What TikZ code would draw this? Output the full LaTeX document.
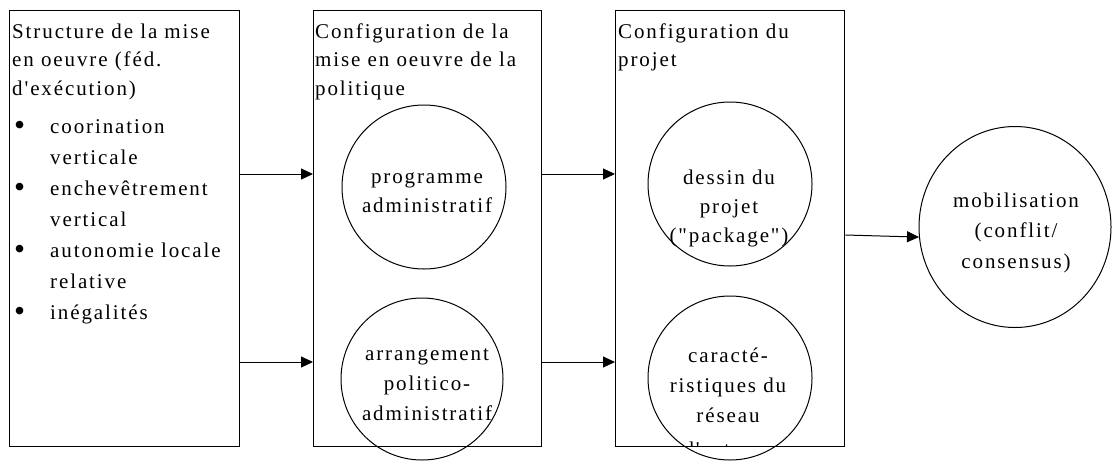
\documentclass[tikz,border=0pt]{standalone}
\usepackage{fontspec}
\newfontfamily\mainf{Liberation Serif}[LetterSpace=9,Ligatures=NoCommon]
\usetikzlibrary{arrows.meta,shapes.geometric}
\newcommand\Lbox[2]{\vtop{\baselineskip=#1\relax\halign{##\hfil\cr#2\crcr}}}
\newcommand\Cbox[2]{\vtop{\baselineskip=#1\relax\halign{\hfil##\hfil\cr#2\crcr}}}
\newcommand\Bul{\makebox[36pt][l]{\raisebox{-0.14em}{\scalebox{1.5}{\textbullet}}}}
\newcommand\Ind{\hspace*{36pt}}
\begin{document}
\begin{tikzpicture}[x=1pt,y=-1pt,
  box/.style={draw, line width=1.3pt, rectangle, inner sep=0pt, anchor=north west},
  circ/.style={draw, line width=1pt, circle, inner sep=0pt},
  arr/.style={line width=1pt, -{Triangle[length=12pt,width=11pt]}},
  txt/.style={inner sep=0pt, font=\mainf\fontsize{21pt}{28.5pt}\selectfont},
]
\useasboundingbox (0,0) rectangle (1115,461);
% boxes
\node[box, minimum width=230pt, minimum height=436pt] (b1) at (9,10) {};
\node[box, minimum width=228pt, minimum height=436pt] (b2) at (313,10) {};
\node[box, minimum width=229pt, minimum height=436pt] (b3) at (615,10) {};
% circles
\node[circ, minimum size=164pt] (c1) at (424,187) {};
\node[circ, minimum size=162pt] (c2) at (422,379) {};
\node[circ, minimum size=164pt] (c3) at (730,184) {};
\node[circ, minimum size=164pt] (c4) at (730,378) {};
\node[draw, ellipse, line width=1pt, inner sep=0pt, minimum width=192pt, minimum height=201pt] (c5) at (1015,227) {};
% arrows
\coordinate (yA) at (0,174);
\coordinate (yB) at (0,362);
\coordinate (yC) at (0,235);
\draw[arr] (b1.east |- yA) -- (b2.west |- yA);
\draw[arr] (b1.east |- yB) -- (b2.west |- yB);
\draw[arr] (b2.east |- yA) -- (b3.west |- yA);
\draw[arr] (b2.east |- yB) -- (b3.west |- yB);
\draw[arr] (b3.east |- yC) -- (c5.186);
% box texts
\node[txt, anchor=base west] (h1) at (12,38) {\Lbox{28.5pt}{Structure de la mise\cr en oeuvre (féd.\cr d'exécution)}};
\node[txt, anchor=base west] (l1) at (14,133) {\Lbox{31pt}{\Bul coorination\cr\Ind verticale\cr\Bul enchevêtrement\cr\Ind vertical\cr\Bul autonomie locale\cr\Ind relative\cr\Bul inégalités}};
\node[txt, anchor=base west] (h2) at (315,38) {\Lbox{28.5pt}{Configuration de la\cr mise en oeuvre de la\cr politique}};
\node[txt, anchor=base west] (h3) at (618,38) {\Lbox{28.5pt}{Configuration du\cr projet}};
% circle texts
\node[txt, anchor=base] (t1) at (427,183) {\Cbox{29pt}{programme\cr administratif}};
\node[txt, anchor=base] (t2) at (427,360) {\Cbox{30pt}{arrangement\cr politico-\cr administratif}};
\node[txt, anchor=base] (t3) at (729,184) {\Cbox{29pt}{dessin du\cr projet\cr ("package")}};
\begin{scope}
\clip (600,290) rectangle (860,446);
\node[txt, anchor=base] (t4) at (728,362) {\Cbox{30pt}{caracté-\cr ristiques du\cr réseau\cr\noalign{\vskip 4pt}d'acteurs}};
\end{scope}
\node[txt, anchor=base] (t5) at (1016,207) {\Cbox{30.5pt}{mobilisation\cr (conflit/\cr consensus)}};
\end{tikzpicture}
\end{document}
